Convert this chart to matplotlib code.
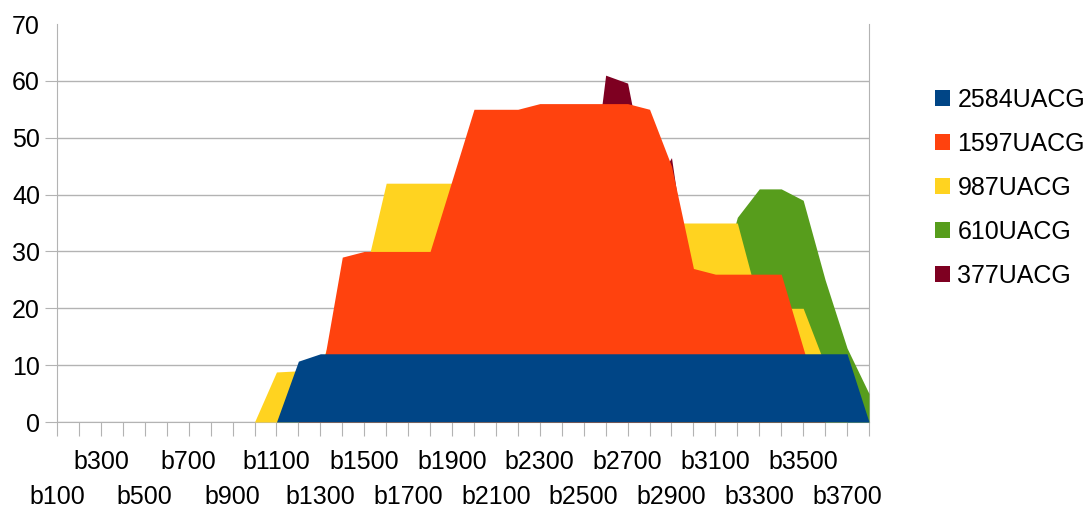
# -*- coding: utf8
'''
Area chart (non stacked) of UACG counts per bin, LibreOffice look.
First series is drawn in front, last series at the back.
'''
from matplotlib import pyplot as plt
import matplotlib
matplotlib.use('Agg')

bins = ['b%d' % (100 * k) for k in range(1, 39)]

s2584 = [0, 0, 0, 0, 0, 0, 0, 0, 0, 0, 0, 10.7,
         12, 12, 12, 12, 12, 12, 12, 12, 12, 12, 12, 12, 12,
         12, 12, 12, 12, 12, 12, 12, 12, 12, 12, 12, 12, 0]
s1597 = [0, 0, 0, 0, 0, 0, 0, 0, 0, 0, 0, 0,
         7, 29, 30, 30, 30, 30, 42.5, 55, 55, 55, 56, 56, 56,
         56, 56, 55, 45, 27, 26, 26, 26, 26, 13, 0, 0, 0]
s987 = [0, 0, 0, 0, 0, 0, 0, 0, 0, 0, 8.8, 9,
        10, 20, 25.5, 42, 42, 42, 42, 42, 40, 40, 38, 38, 36,
        36, 35, 35, 35, 35, 35, 35, 20.5, 20, 20, 10, 0, 0]
s610 = [0, 0, 0, 0, 0, 0, 0, 0, 0, 0, 0, 0,
        0, 0, 0, 0, 0, 0, 0, 0, 0, 0, 0, 0, 0,
        0, 0, 0, 0, 10, 22, 36, 41, 41, 39, 25, 13, 5]
s377 = [0, 0, 0, 0, 0, 0, 0, 0, 0, 0, 0, 0,
        0, 0, 0, 0, 0, 0, 0, 0, 0, 0, 0, 0, 30,
        61, 59.6, 40, 46.5, 20, 0, 0, 0, 0, 0, 0, 0, 0]

series = [('2584UACG', s2584, '#004586'),
          ('1597UACG', s1597, '#ff420e'),
          ('987UACG', s987, '#ffd320'),
          ('610UACG', s610, '#579d1c'),
          ('377UACG', s377, '#7e0021')]

plt.rcParams['font.family'] = ['Liberation Sans', 'DejaVu Sans']
GRID = '#b3b3b3'
FS = 18


def main():
    fig = plt.figure(figsize=(10.89, 5.08), dpi=100)
    ax = fig.add_axes([57 / 1089, 1 - 422 / 508, (869 - 57) / 1089, (422 - 24) / 508])
    x = list(range(len(bins)))

    handles = []
    n = len(series)
    for k, (name, vals, col) in enumerate(series):
        h = ax.fill_between(x, vals, 0, color=col, linewidth=0,
                            zorder=3 + n - k, label=name)
        handles.append(h)

    ax.set_xlim(0, len(bins) - 1)
    ax.set_ylim(0, 70)
    ax.set_axisbelow(True)
    ax.set_yticks(range(0, 71, 10))
    ax.yaxis.grid(True, color=GRID, linewidth=1)
    ax.yaxis.get_gridlines()[-1].set_visible(False)
    ax.yaxis.get_major_ticks()[-1].tick1line.set_visible(False)

    # lower row of labels on major ticks, upper row on minor ticks
    lower = [i for i in x if i % 4 == 0]
    others = [i for i in x if i % 4 != 0]
    ax.set_xticks(lower, [bins[i] for i in lower])
    ax.set_xticks(others, [bins[i] if i % 4 == 2 else '' for i in others],
                  minor=True)

    ax.tick_params(axis='x', which='major', length=10, width=0.8,
                   color=GRID, pad=35, labelsize=FS)
    ax.tick_params(axis='x', which='minor', length=10, width=0.8,
                   color=GRID, pad=10.5, labelsize=FS)
    ax.tick_params(axis='y', length=8.6, width=0.8, color=GRID, pad=3.6,
                   labelsize=FS)
    for s in ('left', 'right', 'bottom'):
        ax.spines[s].set_color(GRID)
        ax.spines[s].set_linewidth(0.8)
    ax.spines['top'].set_visible(False)

    fig.legend(handles=handles, loc='upper left',
               bbox_to_anchor=(935 / 1089, 1 - 88 / 508),
               frameon=False, fontsize=FS, borderpad=0, borderaxespad=0,
               handlelength=0.6, handleheight=0.6, handletextpad=0.3,
               labelspacing=0.8)

    fig.savefig('out.png', dpi=100)


if __name__ == '__main__':
    main()
